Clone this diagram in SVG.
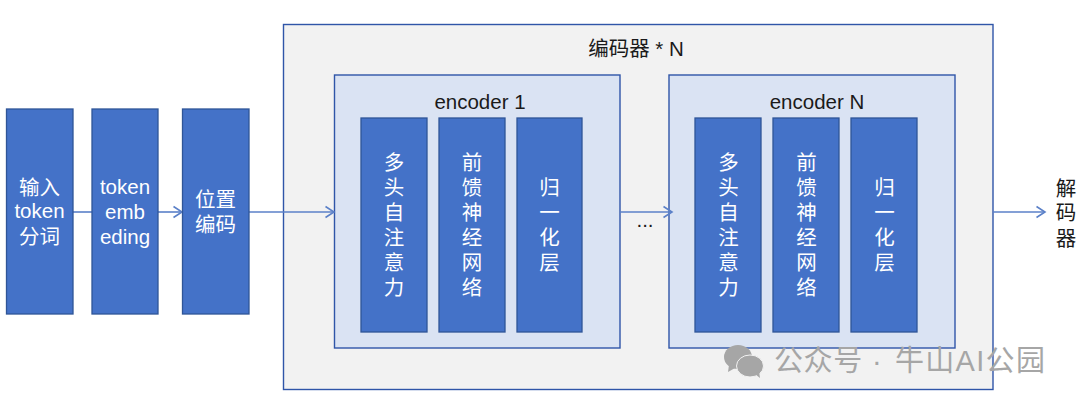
<svg xmlns="http://www.w3.org/2000/svg" width="1080" height="405" viewBox="0 0 1080 405">
<style>
text{font-family:"Liberation Sans","Noto Sans CJK SC",sans-serif;text-anchor:middle}
.b{fill:#4472c8;stroke:#2f5597;stroke-width:1.3}
.w{fill:#fff;font-size:20.5px}
.d{fill:#1a1a1a;font-size:20.5px}
.o{fill:#f2f2f2;stroke:#2f55a8;stroke-width:1.4}
.e{fill:#dae3f3;stroke:#2f55a8;stroke-width:1.4}
.c{fill:none;stroke:#5b80c8;stroke-width:1.6;marker-end:url(#a)}
.l{fill:none;stroke:#5b80c8;stroke-width:1.6}
.wm{fill:#a6a6a6;font-size:29px;text-anchor:start;letter-spacing:.6px}
.i{fill:#a6a6a6}
</style>
<defs><marker id="a" markerUnits="userSpaceOnUse" markerWidth="12" markerHeight="14" refX="9.5" refY="7" orient="auto"><path d="M1 1.5L9.5 7L1 12.5" fill="none" stroke="#5b80c8" stroke-width="1.6"/></marker></defs>
<g id="outer"><rect class="o" x="283.5" y="24.5" width="709.5" height="365"/><text class="d" x="636" y="56">编码器 * N</text></g>
<g id="enc1"><rect class="e" x="334.5" y="75" width="285.5" height="273"/><text class="d" x="480" y="109">encoder 1</text></g>
<g id="encN"><rect class="e" x="669" y="75" width="286" height="273"/><text class="d" x="817" y="109">encoder N</text></g>
<g id="connectors">
<path class="l" d="M73 212H92"/>
<path class="c" d="M158 212H182"/>
<path class="c" d="M249 212H334"/>
<path class="c" d="M620 212H672"/>
<path class="c" d="M993 212H1045"/>
</g>
<g id="n1"><rect class="b" x="6.500" y="109" width="66.500" height="205"/><text class="w"><tspan x="39.500" y="195">输入</tspan><tspan x="39.500" y="218">token</tspan><tspan x="39.500" y="244">分词</tspan></text></g>
<g id="n2"><rect class="b" x="92" y="109" width="66" height="205"/><text class="w"><tspan x="125" y="194">token</tspan><tspan x="125" y="219">emb</tspan><tspan x="125" y="244">eding</tspan></text></g>
<g id="n3"><rect class="b" x="182.500" y="109" width="66.500" height="205"/><text class="w"><tspan x="215.500" y="207">位置</tspan><tspan x="215.500" y="232">编码</tspan></text></g>
<g id="a1"><rect class="b" x="361" y="118" width="66" height="214"/><text class="w"><tspan x="394" y="170">多</tspan><tspan x="394" y="195">头</tspan><tspan x="394" y="220">自</tspan><tspan x="394" y="245">注</tspan><tspan x="394" y="270">意</tspan><tspan x="394" y="295">力</tspan></text></g>
<g id="f1"><rect class="b" x="439" y="118" width="66" height="214"/><text class="w"><tspan x="472" y="170">前</tspan><tspan x="472" y="195">馈</tspan><tspan x="472" y="220">神</tspan><tspan x="472" y="245">经</tspan><tspan x="472" y="270">网</tspan><tspan x="472" y="295">络</tspan></text></g>
<g id="g1"><rect class="b" x="517" y="118" width="65" height="214"/><text class="w"><tspan x="549.500" y="195">归</tspan><tspan x="549.500" y="220">一</tspan><tspan x="549.500" y="245">化</tspan><tspan x="549.500" y="270">层</tspan></text></g>
<g id="a2"><rect class="b" x="695" y="118" width="66" height="214"/><text class="w"><tspan x="728.500" y="170">多</tspan><tspan x="728.500" y="195">头</tspan><tspan x="728.500" y="220">自</tspan><tspan x="728.500" y="245">注</tspan><tspan x="728.500" y="270">意</tspan><tspan x="728.500" y="295">力</tspan></text></g>
<g id="f2"><rect class="b" x="773" y="118" width="66" height="214"/><text class="w"><tspan x="806.500" y="170">前</tspan><tspan x="806.500" y="195">馈</tspan><tspan x="806.500" y="220">神</tspan><tspan x="806.500" y="245">经</tspan><tspan x="806.500" y="270">网</tspan><tspan x="806.500" y="295">络</tspan></text></g>
<g id="g2"><rect class="b" x="851" y="118" width="66" height="214"/><text class="w"><tspan x="884.500" y="195">归</tspan><tspan x="884.500" y="220">一</tspan><tspan x="884.500" y="245">化</tspan><tspan x="884.500" y="270">层</tspan></text></g>
<g id="dots"><text class="d" x="645" y="227" font-size="16">...</text></g>
<g id="dec"><text class="d"><tspan x="1066" y="196">解</tspan><tspan x="1066" y="220">码</tspan><tspan x="1066" y="246">器</tspan></text></g>
<g id="wm"><ellipse class="i" cx="738" cy="357" rx="14" ry="12"/><path class="i" d="M729 365l-1 7 7-4z"/><ellipse cx="750" cy="366" rx="13.500" ry="11" fill="#a6a6a6" stroke="#f2f2f2"/><path class="i" d="M755 374l5 4-1-7z"/><text class="wm" y="371"><tspan x="774">公众号</tspan><tspan x="872">·</tspan><tspan x="895" letter-spacing="1.3">牛山AI公园</tspan></text></g>
</svg>
